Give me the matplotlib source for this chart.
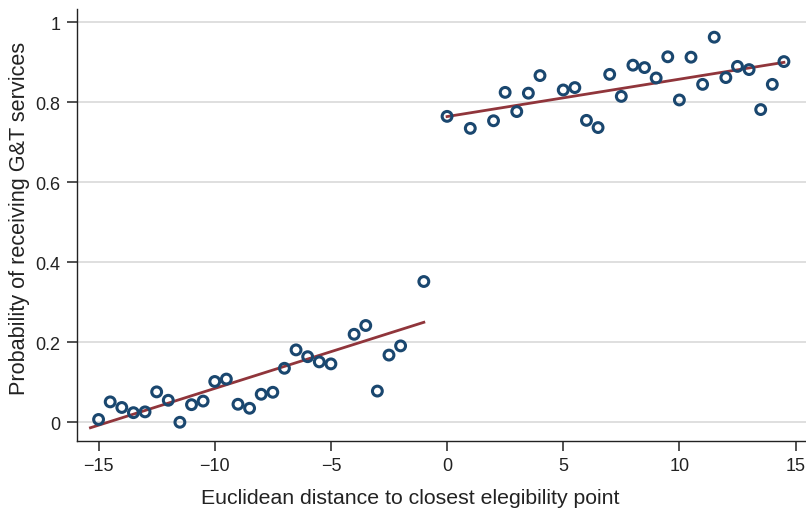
import numpy as np
import matplotlib.pyplot as plt

plt.rcParams['font.family'] = ['Liberation Sans', 'DejaVu Sans']

# binned means, below the cutoff
xLeft = [-15, -14.5, -14, -13.5, -13, -12.5, -12, -11.5, -11, -10.5, -10, -9.5,
         -9, -8.5, -8, -7.5, -7, -6.5, -6, -5.5, -5, -4, -3.5, -3, -2.5, -2, -1]
yLeft = [0.007, 0.051, 0.037, 0.024, 0.026, 0.076, 0.055, 0.0, 0.044, 0.053, 0.102, 0.108,
         0.045, 0.035, 0.070, 0.075, 0.135, 0.181, 0.164, 0.151, 0.146, 0.220, 0.242, 0.078,
         0.168, 0.191, 0.352]

# binned means, above the cutoff
xRight = [0, 1, 2, 2.5, 3, 3.5, 4, 5, 5.5, 6, 6.5, 7, 7.5, 8, 8.5, 9, 9.5, 10,
          10.5, 11, 11.5, 12, 12.5, 13, 13.5, 14, 14.5]
yRight = [0.765, 0.735, 0.754, 0.825, 0.777, 0.823, 0.867, 0.831, 0.837, 0.755, 0.737,
          0.870, 0.815, 0.893, 0.887, 0.861, 0.914, 0.806, 0.913, 0.845, 0.963, 0.862,
          0.890, 0.882, 0.782, 0.845, 0.902]

# linear fits on each side: (intercept, slope, x range)
fitLeft = (0.2684, 0.01838, (-15.35, -1.0))
fitRight = (0.7645, 0.00935, (0.0, 14.5))

navy = '#1a476f'
maroon = '#90353b'

fig = plt.figure(figsize=(8.06, 5.10), dpi=100)
ax = fig.add_axes([0.0955, 0.134, 0.9045, 0.846])

ax.grid(axis='y', color='#dcdcdc', lw=1.3, zorder=0)
ax.set_axisbelow(True)

for b0, b1, (xa, xb) in [fitLeft, fitRight]:
    xs = np.array([xa, xb])
    ax.plot(xs, b0 + b1 * xs, color=maroon, lw=2.0, zorder=2)

ax.scatter(xLeft + xRight, yLeft + yRight, s=50, facecolors='none',
           edgecolors=navy, linewidths=2.2, zorder=3)

ax.set_xlim(-15.93, 15.45)
ax.set_ylim(-0.046, 1.033)
ax.set_xticks([-15, -10, -5, 0, 5, 10, 15])
ax.set_yticks([0, 0.2, 0.4, 0.6, 0.8, 1.0])
ax.set_yticklabels(['0', '0.2', '0.4', '0.6', '0.8', '1'])

for side in ['top', 'right']:
    ax.spines[side].set_visible(False)
for side in ['left', 'bottom']:
    ax.spines[side].set_color('#222222')
    ax.spines[side].set_linewidth(1.0)
ax.tick_params(direction='out', length=7, width=1.1, color='#222222',
               labelsize=13, labelcolor='#222222', pad=5)

ax.set_xlabel('Euclidean distance to closest elegibility point', fontsize=15.3,
              color='#222222')
ax.set_ylabel('Probability of receiving G&T services', fontsize=15.6,
              color='#222222')
ax.xaxis.set_label_coords(0.457, -0.109)
ax.yaxis.set_label_coords(-0.064, 0.5185)

fig.savefig('out.png', dpi=100)
